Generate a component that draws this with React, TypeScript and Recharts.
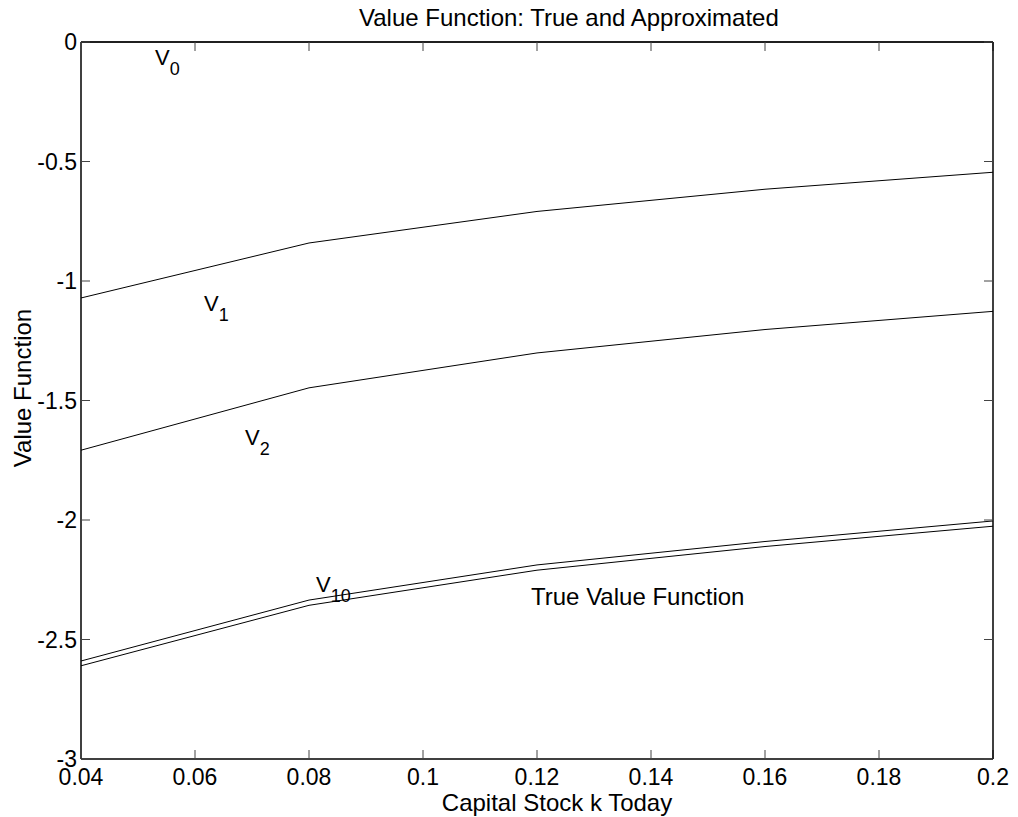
import { Line, LineChart, XAxis, YAxis } from 'recharts'

// Grid of capital stock values and the successive value-function iterates.
const capital = [0.04, 0.08, 0.12, 0.16, 0.2]
const v0 = [0, 0, 0, 0, 0]
const v1 = [-1.071, -0.841, -0.709, -0.616, -0.545]
const v2 = [-1.708, -1.447, -1.301, -1.203, -1.127]
const v10 = [-2.59, -2.335, -2.188, -2.09, -2.004]
const trueValue = [-2.61, -2.357, -2.21, -2.111, -2.026]

const xTicks = [0.04, 0.06, 0.08, 0.1, 0.12, 0.14, 0.16, 0.18, 0.2]
const yTicks = [-3, -2.5, -2, -1.5, -1, -0.5, 0]

const data = capital.map((k, i) => ({
  k,
  v0: v0[i],
  v1: v1[i],
  v2: v2[i],
  v10: v10[i],
  truth: trueValue[i],
}))

const FONT = '"Liberation Sans", Arial, Helvetica, sans-serif'
const INK = '#000'
const TICK_FONT = { fontSize: 23, fill: INK, fontFamily: FONT }

// tick marks only, no label
const NoLabel = () => <g />

function Iterate({ x, y, sub }: { x: number; y: number; sub: string }) {
  return (
    <text x={x} y={y} fontFamily={FONT} fontSize={22} fill={INK}>
      V
      <tspan fontSize={18} dy={10}>
        {sub}
      </tspan>
    </text>
  )
}

export default function App() {
  return (
    <div style={{ position: 'absolute', left: 0, top: 0, background: '#fff' }}>
      <LineChart
        width={1018}
        height={817}
        data={data}
        margin={{ top: 42, right: 25, bottom: 18, left: 21 }}
      >
        {/* labelled axes */}
        <XAxis
          xAxisId="main"
          dataKey="k"
          type="number"
          domain={[0.04, 0.2]}
          ticks={xTicks}
          interval={0}
          height={40}
          tickLine={false}
          tickSize={0}
          tickMargin={10}
          axisLine={{ stroke: INK, strokeWidth: 1.5 }}
          tick={TICK_FONT}
        />
        <YAxis
          yAxisId="main"
          type="number"
          domain={[-3, 0]}
          ticks={yTicks}
          interval={0}
          width={60}
          tickLine={false}
          tickSize={0}
          tickMargin={4}
          axisLine={{ stroke: INK, strokeWidth: 1.5 }}
          tick={TICK_FONT}
        />
        {/* inward tick marks and the box, MATLAB style */}
        <XAxis
          xAxisId="bottomTicks"
          dataKey="k"
          type="number"
          orientation="bottom"
          mirror
          domain={[0.04, 0.2]}
          allowDataOverflow
          ticks={xTicks}
          interval={0}
          tick={NoLabel}
          tickSize={9}
          tickLine={{ stroke: '#444' }}
          axisLine={false}
        />
        <XAxis
          xAxisId="topTicks"
          dataKey="k"
          type="number"
          orientation="top"
          mirror
          domain={[0.04, 0.2]}
          allowDataOverflow
          ticks={xTicks}
          interval={0}
          tick={NoLabel}
          tickSize={9}
          tickLine={{ stroke: '#444' }}
          axisLine={{ stroke: INK, strokeWidth: 1.5 }}
        />
        <YAxis
          yAxisId="leftTicks"
          type="number"
          orientation="left"
          mirror
          domain={[-3, 0]}
          allowDataOverflow
          ticks={yTicks}
          interval={0}
          tick={NoLabel}
          tickSize={9}
          tickLine={{ stroke: '#444' }}
          axisLine={false}
        />
        <YAxis
          yAxisId="rightTicks"
          type="number"
          orientation="right"
          mirror
          domain={[-3, 0]}
          allowDataOverflow
          ticks={yTicks}
          interval={0}
          tick={NoLabel}
          tickSize={9}
          tickLine={{ stroke: '#444' }}
          axisLine={{ stroke: INK, strokeWidth: 1.5 }}
        />

        <Line xAxisId="main" yAxisId="main" type="linear" dataKey="v0" stroke={INK} strokeWidth={1} dot={false} isAnimationActive={false} />
        <Line xAxisId="main" yAxisId="main" type="linear" dataKey="v1" stroke={INK} strokeWidth={1} dot={false} isAnimationActive={false} />
        <Line xAxisId="main" yAxisId="main" type="linear" dataKey="v2" stroke={INK} strokeWidth={1} dot={false} isAnimationActive={false} />
        <Line xAxisId="main" yAxisId="main" type="linear" dataKey="v10" stroke={INK} strokeWidth={1} dot={false} isAnimationActive={false} />
        <Line xAxisId="main" yAxisId="main" type="linear" dataKey="truth" stroke={INK} strokeWidth={1} dot={false} isAnimationActive={false} />

        <text x={359} y={26} fontFamily={FONT} fontSize={24} fill={INK}>
          Value Function: True and Approximated
        </text>
        <text x={557} y={811} textAnchor="middle" fontFamily={FONT} fontSize={24} fill={INK}>
          Capital Stock k Today
        </text>
        <text
          x={31}
          y={388}
          textAnchor="middle"
          transform="rotate(-90 31 388)"
          fontFamily={FONT}
          fontSize={24}
          fill={INK}
        >
          Value Function
        </text>

        <Iterate x={155} y={65} sub="0" />
        <Iterate x={204} y={311} sub="1" />
        <Iterate x={245} y={445} sub="2" />
        <Iterate x={316} y={592} sub="10" />
        <text x={531} y={605} fontFamily={FONT} fontSize={24} fill={INK}>
          True Value Function
        </text>
      </LineChart>
    </div>
  )
}
